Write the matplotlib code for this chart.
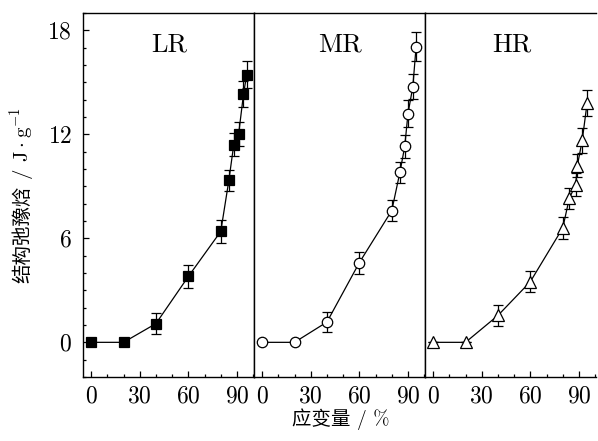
import numpy as np
import matplotlib
matplotlib.use('Agg')
import matplotlib.pyplot as plt
from matplotlib.ticker import MultipleLocator

plt.rcParams['font.family'] = ['cmr10', 'Noto Sans CJK SC', 'DejaVu Sans']
plt.rcParams['mathtext.fontset'] = 'cm'
plt.rcParams['axes.formatter.use_mathtext'] = True

# strain (%) and relaxation enthalpy (J/g)
lr_x = [0, 20, 40, 60, 80, 85, 88, 91, 94, 96]
lr_y = [0, 0, 1.08, 3.8, 6.4, 9.35, 11.4, 12.0, 14.3, 15.45]
lr_err = [0, 0, 0.6, 0.65, 0.65, 0.6, 0.65, 0.7, 0.75, 0.8]

mr_x = [0, 20, 40, 60, 80, 85, 88, 90, 93, 95]
mr_y = [0, 0, 1.17, 4.6, 7.6, 9.8, 11.3, 13.2, 14.75, 17.05]
mr_err = [0, 0, 0.6, 0.63, 0.62, 0.6, 0.67, 0.77, 0.73, 0.84]

hr_x = [0, 20, 40, 60, 80, 84, 88, 89, 92, 95]
hr_y = [0, 0, 1.55, 3.5, 6.6, 8.3, 9.1, 10.2, 11.65, 13.8]
hr_err = [0, 0, 0.6, 0.6, 0.65, 0.6, 0.65, 0.65, 0.7, 0.75]

panels = ['LR', 'MR', 'HR']
series = [(lr_x, lr_y, lr_err, 's', 'black', 7),
          (mr_x, mr_y, mr_err, 'o', 'white', 7.5),
          (hr_x, hr_y, hr_err, '^', 'white', 8.5)]

fig = plt.figure(figsize=(5.98, 4.41), dpi=100)
left, bottom, w, h = 83 / 598, 1 - 377 / 441, 171 / 598, 364 / 441

axes = []
for i, (name, (x, y, e, mk, fc, ms)) in enumerate(zip(panels, series)):
    ax = fig.add_axes([left + i * w, bottom, w, h])
    ax.errorbar(x, y, yerr=e, fmt='-', color='black', lw=0.9,
                elinewidth=0.9, capsize=3.5, capthick=0.9, zorder=2)
    ax.plot(x, y, linestyle='none', marker=mk, markersize=ms,
            markerfacecolor=fc, markeredgecolor='black', markeredgewidth=0.9, zorder=3)
    ax.set_xlim(-5, 100.5)
    ax.set_ylim(-2, 19)
    ax.set_xticks([0, 30, 60, 90])
    ax.xaxis.set_minor_locator(MultipleLocator(10))
    ax.tick_params(axis='both', which='both', direction='in', top=False, right=False,
                   labelsize=17, width=0.9)
    ax.tick_params(which='major', length=4)
    ax.tick_params(which='minor', length=2.5)
    ax.tick_params(axis='x', pad=6)
    for s in ax.spines.values():
        s.set_linewidth(1.0)
    if i == 0:
        ax.set_yticks([0, 6, 12, 18])
        ax.yaxis.set_minor_locator(MultipleLocator(1))
        ax.tick_params(axis='y', pad=8)
    else:
        ax.tick_params(axis='y', which='both', left=False, labelleft=False)
    if i == 2:
        ax.spines['right'].set_visible(False)  # cut off at the image edge
    ax.text(0.505, 0.912, name, transform=ax.transAxes, ha='center', va='center', fontsize=19)
    axes.append(ax)

fig.text(0.57, 0.05, '应变量 / %', ha='center', va='center', fontsize=14)

# y label: Chinese part as plain text, unit part in mathtext, stacked vertically
ylab_x = 0.038
t1 = fig.text(ylab_x, 0, '结构弛豫焓', rotation=90, ha='center', va='bottom', fontsize=14)
t2 = fig.text(ylab_x, 0, ' / $\\mathrm{J\\cdot g^{-1}}$', rotation=90, ha='center',
              va='bottom', fontsize=15)
r = fig.canvas.get_renderer()
h1 = t1.get_window_extent(r).height / fig.bbox.height
h2 = t2.get_window_extent(r).height / fig.bbox.height
y0 = bottom + h / 2 - (h1 + h2) / 2
t1.set_y(y0)
t2.set_y(y0 + h1)

fig.savefig('out.png', dpi=100)
